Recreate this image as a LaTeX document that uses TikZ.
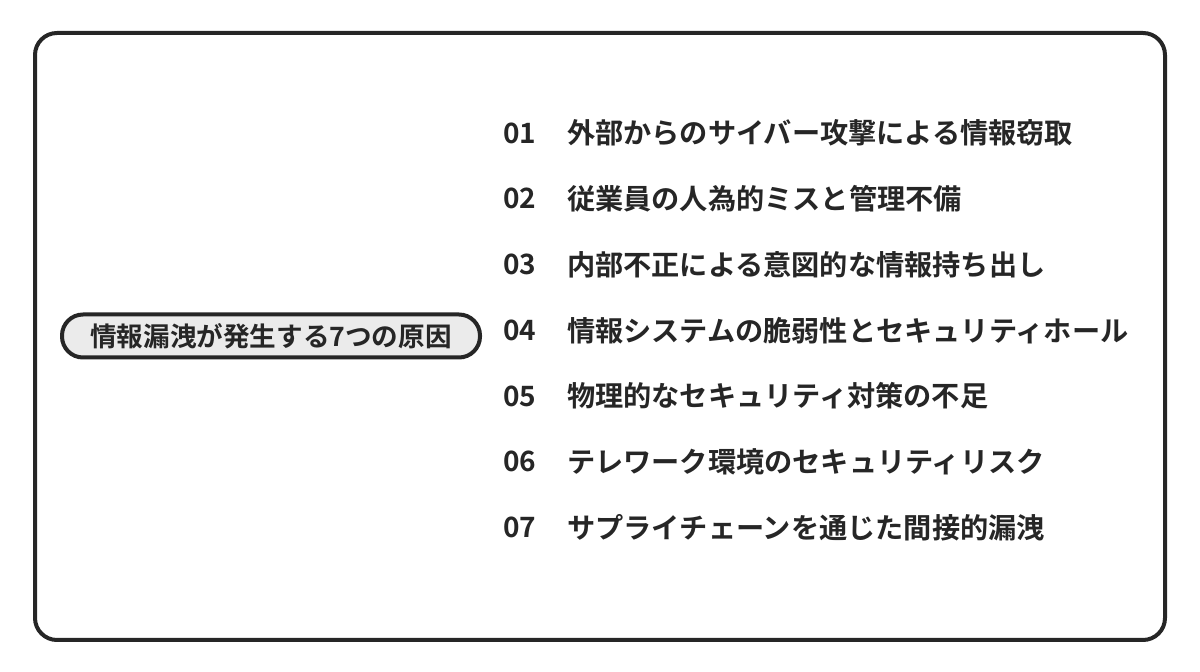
\documentclass[tikz,border=0pt]{standalone}
\usepackage{fontspec}
\newfontfamily\jpfont{Noto Sans CJK JP}[BoldFont={* Bold}]
\usetikzlibrary{positioning}

\begin{document}
\begin{tikzpicture}[x=0.5pt, y=-0.5pt, line width=2pt,
	causenum/.style={anchor=west, font=\jpfont\bfseries\fontsize{14}{16}\selectfont, inner sep=0pt, text=black!85},
	causetext/.style={anchor=west, font=\jpfont\bfseries\fontsize{14.1}{16}\selectfont, inner sep=0pt, text=black!85}]
	% canvas
	\useasboundingbox (0,0) rectangle (1200,672);
	\draw [rounded corners=11pt, black!85] (35,33) rectangle (1165,640);
	
	% title pill
	\node [draw=black!85, fill=black!8, rounded corners=10.5pt, minimum width=209pt, minimum height=21.5pt,
	font=\jpfont\bfseries\fontsize{13.3}{16}\selectfont, text=black!85] (title) at (271,336) {情報漏洩が発生する7つの原因};
	
	% causes
	\foreach \n/\t [count=\i] in {01/外部からのサイバー攻撃による情報窃取, 02/従業員の人為的ミスと管理不備,
		03/内部不正による意図的な情報持ち出し, 04/情報システムの脆弱性とセキュリティホール,
		05/物理的なセキュリティ対策の不足, 06/テレワーク環境のセキュリティリスク,
		07/サプライチェーンを通じた間接的漏洩} {
		\node [causenum] (num\i) at (501, 67.5+65.7*\i) {\n};
		\node [causetext] (cause\i) at (565, 67.5+65.7*\i) {\t};
	}
\end{tikzpicture}
\end{document}
